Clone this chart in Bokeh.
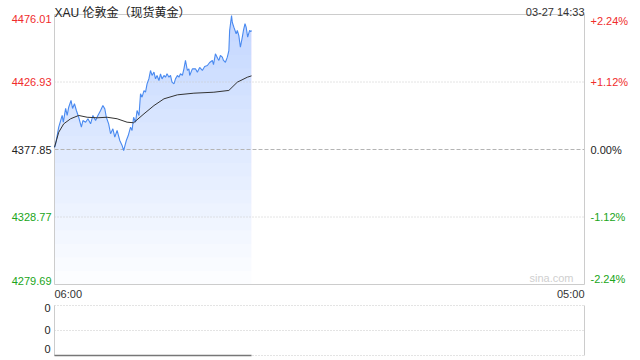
import numpy as np
from bokeh.plotting import figure
from bokeh.models import Range1d, Label
from bokeh.embed import file_html
from bokeh.resources import INLINE

# ---------------- data ----------------
title_text = "XAU 伦敦金（现货黄金）"
stamp_text = "03-27 14:33"
prev_close = 4377.85

# minutes after 06:00
t = [0, 3, 11, 20, 23, 29, 33, 37, 43, 47, 52, 57, 63, 70, 74, 81, 87, 94, 100, 107,
     113, 120, 126, 131, 135, 141, 146, 152, 157, 163, 170, 176, 180, 187, 192, 198,
     202, 206, 211, 215, 220, 224, 228, 233, 237, 241, 246, 250, 254, 259, 263, 267,
     272, 276, 280, 285, 289, 293, 298, 302, 306, 311, 315, 320, 324, 328, 333, 337,
     341, 346, 350, 352, 359, 367, 372, 378, 385, 391, 398, 404, 411, 414, 419, 425,
     428, 432, 437, 440, 445, 450, 454, 456, 461, 463, 467, 473, 476, 480, 484, 489,
     492, 496, 499, 503, 508, 511, 513]
price = [4379.3, 4382.0, 4394.1, 4402.6, 4397.7, 4407.7, 4402.6, 4408.6, 4413.5, 4407.7,
         4411.1, 4406.2, 4401.3, 4394.1, 4398.9, 4397.7, 4400.2, 4396.5, 4402.6, 4398.9,
         4402.6, 4406.2, 4409.8, 4407.4, 4401.3, 4396.5, 4389.3, 4392.9, 4386.8, 4391.7,
         4384.4, 4380.8, 4377.1, 4384.4, 4388.0, 4394.1, 4391.7, 4401.3, 4397.7, 4406.2,
         4402.6, 4418.4, 4415.9, 4420.7, 4419.5, 4425.6, 4429.5, 4435.3, 4431.7, 4434.1,
         4429.2, 4431.7, 4428.0, 4432.9, 4429.2, 4431.7, 4430.4, 4432.9, 4430.4, 4431.7,
         4426.8, 4425.6, 4429.2, 4431.7, 4430.4, 4432.9, 4431.7, 4436.5, 4442.6, 4435.3,
         4436.5, 4431.7, 4436.5, 4436.5, 4434.1, 4437.5, 4435.3, 4438.2, 4438.9, 4441.1,
         4442.6, 4439.6, 4447.4, 4444.0, 4442.6, 4446.2, 4445.0, 4442.6, 4441.3, 4445.0,
         4449.8, 4464.4, 4475.3, 4470.2, 4466.8, 4462.0, 4464.4, 4460.7, 4452.2, 4459.5,
         4464.4, 4469.3, 4466.8, 4459.5, 4464.4, 4463.6, 4464.4]

avg_t = [0, 11, 24, 42, 63, 85, 111, 137, 163, 189, 206, 233, 259, 285, 320, 363, 415,
         454, 476, 502, 513]
avg_price = [4379.5, 4390.4, 4396.5, 4400.2, 4402.6, 4401.3, 4400.9, 4401.3, 4400.2,
             4397.7, 4397.3, 4403.8, 4409.8, 4414.7, 4417.6, 4418.8, 4419.5, 4420.8,
             4426.8, 4430.4, 4431.4]

y_ticks = [4476.01, 4426.93, 4377.85, 4328.77, 4279.69]
y_tick_labels = ["4476.01", "4426.93", "4377.85", "4328.77", "4279.69"]
pct_labels = ["+2.24%", "+1.12%", "0.00%", "-1.12%", "-2.24%"]
tick_colors = ["#f02c2c", "#f02c2c", "#222222", "#20a520", "#20a520"]

x_tick_pos = [0, 1380]           # 06:00 .. 05:00 next day (minutes)
x_tick_labels = ["06:00", "05:00"]

vol_t = [0, 513]
vol = [0, 0]
vol_ticks = [1, 0.5, 0]
vol_tick_labels = ["0", "0", "0"]

FONT = "'Liberation Sans', Arial, 'Noto Sans CJK SC', sans-serif"

# ---------------- layout (pixels) ----------------
W, H = 640, 360
FL, FR = 54, 584          # frame left / right
MT, MB = 14, 284          # main panel top / bottom
VT, VB = 305, 355         # volume panel top / bottom

xs = (x_tick_pos[1] - x_tick_pos[0]) / (FR - FL)
ys = (y_ticks[0] - y_ticks[-1]) / (MB - MT)
vs = (vol_ticks[0] - vol_ticks[-1]) / (VB - VT)

p = figure(width=W, height=H, output_backend="svg", toolbar_location=None,
           x_axis_location=None, y_axis_location=None,
           x_range=Range1d(x_tick_pos[0] - FL * xs, x_tick_pos[1] + (W - FR) * xs),
           y_range=Range1d(y_ticks[-1] - (H - MB) * ys, y_ticks[0] + MT * ys),
           min_border=0, min_border_left=0, min_border_right=0,
           min_border_top=0, min_border_bottom=0)
p.extra_y_ranges = {"vol": Range1d(vol_ticks[-1] - (H - VB) * vs, vol_ticks[0] + VT * vs)}
p.grid.visible = False
p.outline_line_color = None
p.background_fill_color = "white"
p.border_fill_color = "white"

# gradient area under price
tt = np.array(t, dtype=float)
pp = np.array(price, dtype=float)
levels = np.linspace(y_ticks[-1], y_ticks[0], 21)[:-1]
for L in levels:
    p.varea(x=tt, y1=np.minimum(L, pp), y2=pp, fill_color="#6496eb", fill_alpha=0.018)

# grid lines
x0, x1 = x_tick_pos
p.segment(x0=[x0, x0], x1=[x1, x1], y0=[y_ticks[1], y_ticks[3]], y1=[y_ticks[1], y_ticks[3]],
          line_color="#c8c8c8", line_dash="1 2", line_width=1)
p.segment(x0=[x0], x1=[x1], y0=[prev_close], y1=[prev_close],
          line_color="#b4b4b4", line_dash="4 2", line_width=1)
# main frame border
p.segment(x0=[x0, x0, x0, x1], x1=[x1, x1, x0, x1],
          y0=[y_ticks[0], y_ticks[-1], y_ticks[-1], y_ticks[-1]],
          y1=[y_ticks[0], y_ticks[-1], y_ticks[0], y_ticks[0]],
          line_color="#cccccc", line_width=1)

p.line(t, price, line_color="#4a8af0", line_width=1.1)
p.line(avg_t, avg_price, line_color="#333333", line_width=1)

# volume panel
p.segment(x0=[x0] * 3, x1=[x1] * 3, y0=vol_ticks, y1=vol_ticks, y_range_name="vol",
          line_color="#c8c8c8", line_dash="1 2", line_width=1)
p.segment(x0=[x0, x1], x1=[x0, x1], y0=[vol_ticks[-1]] * 2, y1=[vol_ticks[0]] * 2,
          y_range_name="vol", line_color="#cccccc", line_width=1)
p.line(vol_t, vol, y_range_name="vol", line_color="#777777", line_width=1.5)

# tick labels
for i, (yv, lab, pl, col) in enumerate(zip(y_ticks, y_tick_labels, pct_labels, tick_colors)):
    base = "top" if i == 0 else ("bottom" if i == len(y_ticks) - 1 else "middle")
    p.add_layout(Label(x=x0, y=yv, x_offset=-3, text=lab, text_align="right",
                       text_baseline=base, text_color=col, text_font=FONT,
                       text_font_size="11px"))
    p.add_layout(Label(x=x1, y=yv, x_offset=6, text=pl, text_align="left",
                       text_baseline=base, text_color=col, text_font=FONT,
                       text_font_size="11px"))

vol_offsets = [2, 1, 3]
for i, (yv, lab) in enumerate(zip(vol_ticks, vol_tick_labels)):
    base = "top" if i == 0 else ("bottom" if i == len(vol_ticks) - 1 else "middle")
    p.add_layout(Label(x=x0, y=yv, y_range_name="vol", x_offset=-4, y_offset=vol_offsets[i],
                       text=lab, text_align="right", text_baseline=base,
                       text_color="#222222", text_font=FONT, text_font_size="11px"))

for xv, lab, al in zip(x_tick_pos, x_tick_labels, ["left", "right"]):
    p.add_layout(Label(x=xv, y=y_ticks[-1], y_offset=-3, text=lab, text_align=al,
                       text_baseline="top", text_color="#333333", text_font=FONT,
                       text_font_size="11px"))

p.add_layout(Label(x=x0, y=y_ticks[0], y_offset=2, text=title_text,
                   text_align="left", text_baseline="alphabetic", text_color="#222222",
                   text_font=FONT, text_font_size="12px"))
p.add_layout(Label(x=x1, y=y_ticks[0], y_offset=3, text=stamp_text,
                   text_align="right", text_baseline="alphabetic", text_color="#333333",
                   text_font=FONT, text_font_size="11px"))
p.add_layout(Label(x=x1, y=y_ticks[-1], x_offset=-11, y_offset=1, text="sina.com",
                   text_align="right", text_baseline="bottom", text_color="#cfcfcf",
                   text_font=FONT, text_font_size="11px"))

open("out.html", "w").write(file_html(p, INLINE))
